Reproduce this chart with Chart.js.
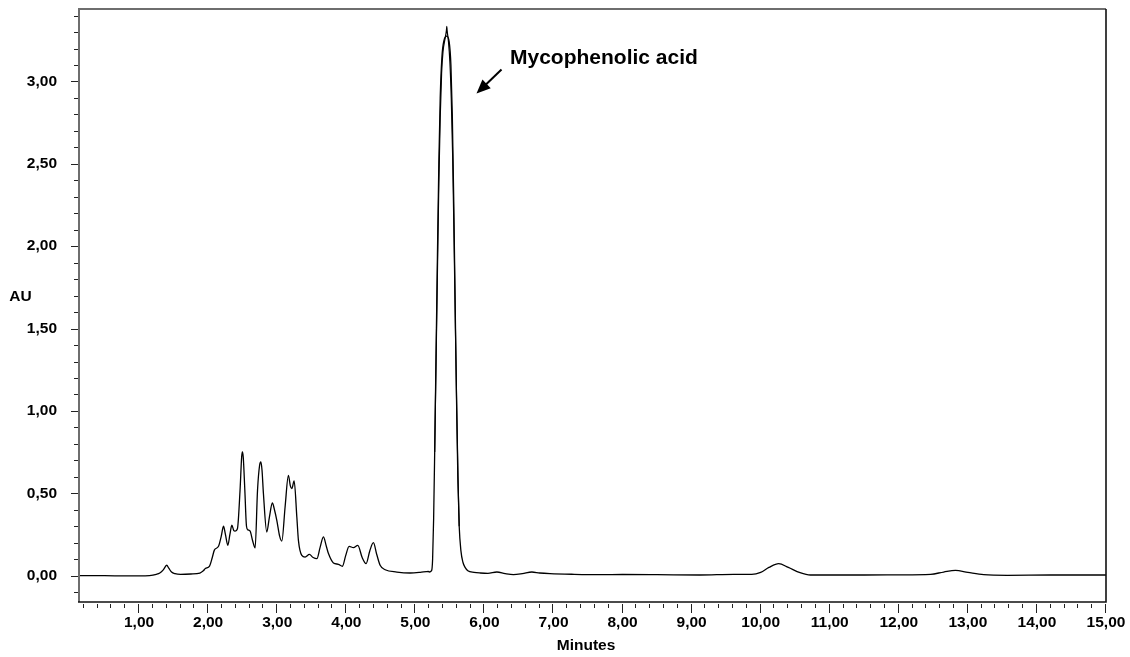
<!DOCTYPE html>
<html>
<head>
<meta charset="utf-8">
<script src="https://cdn.jsdelivr.net/npm/chart.js@4.4.1/dist/chart.umd.min.js"></script>
<style>
  html, body { margin: 0; padding: 0; background: #fff; }
  #wrap { width: 1130px; height: 657px; position: relative; }
</style>
</head>
<body>
<div id="wrap"><canvas id="c" width="1130" height="657"></canvas></div>
<script>
// ---- Data ----
const timeMin = [
  0.13, 0.50, 0.80, 1.00, 1.15, 1.25, 1.30, 1.35, 1.40, 1.43, 1.47, 1.52, 1.60, 1.75, 1.88, 1.93, 1.96,
  2.02, 2.06, 2.09, 2.15, 2.19, 2.222, 2.25, 2.285, 2.315, 2.343, 2.37, 2.39, 2.424, 2.462, 2.485, 2.496,
  2.508, 2.531, 2.555, 2.575, 2.608, 2.645, 2.68, 2.715, 2.745, 2.763, 2.78, 2.80, 2.849, 2.887, 2.93,
  2.96, 2.994, 3.035, 3.067, 3.114, 3.162, 3.19, 3.211, 3.245, 3.284, 3.307, 3.356, 3.404, 3.466, 3.52,
  3.574, 3.62, 3.669, 3.71, 3.742, 3.814, 3.886, 3.944, 3.99, 4.041, 4.104, 4.167, 4.23, 4.287, 4.34,
  4.393, 4.44, 4.49, 4.563, 4.732, 4.925, 5.07, 5.19,
  5.20, 5.235, 5.25, 5.265, 5.28, 5.30, 5.32, 5.34, 5.36, 5.385, 5.415, 5.455, 5.49, 5.515, 5.535, 5.555,
  5.575, 5.595, 5.615, 5.635, 5.66, 5.69, 5.72, 5.76, 5.85,
  5.94, 6.05, 6.18, 6.30, 6.42, 6.55, 6.687, 6.80, 6.95, 7.30, 7.676, 8.00, 8.50, 9.12, 9.61, 9.87,
  10.00, 10.12, 10.26, 10.40, 10.57, 10.72, 11.50, 12.00, 12.46, 12.65, 12.82, 13.00, 13.23, 13.57,
  14.20, 15.00
];
const absorbanceAU = [
  0.000, 0.000, -0.002, -0.002, 0.000, 0.008, 0.016, 0.035, 0.063, 0.045, 0.022, 0.012, 0.008, 0.010, 0.016, 0.030, 0.043,
  0.058, 0.110, 0.155, 0.178, 0.240, 0.300, 0.250, 0.184, 0.250, 0.306, 0.275, 0.270, 0.285, 0.520, 0.720, 0.751,
  0.720, 0.520, 0.300, 0.278, 0.270, 0.210, 0.168, 0.520, 0.670, 0.690, 0.640, 0.500, 0.265, 0.356, 0.441,
  0.400, 0.336, 0.240, 0.210, 0.417, 0.609, 0.545, 0.528, 0.575, 0.356, 0.214, 0.123, 0.113, 0.129, 0.110,
  0.103, 0.170, 0.235, 0.180, 0.134, 0.077, 0.069, 0.057, 0.120, 0.178, 0.170, 0.184, 0.110, 0.073, 0.150,
  0.200, 0.130, 0.063, 0.036, 0.022, 0.016, 0.020, 0.026,
  0.022, 0.030, 0.100, 0.350, 0.750, 1.350, 1.950, 2.500, 2.900, 3.150, 3.250, 3.275, 3.240, 3.100, 2.800, 2.300,
  1.700, 1.100, 0.600, 0.300, 0.150, 0.080, 0.050, 0.030, 0.020,
  0.016, 0.014, 0.022, 0.012, 0.006, 0.012, 0.022, 0.016, 0.012, 0.008, 0.006, 0.007, 0.006, 0.004, 0.008, 0.008,
  0.020, 0.050, 0.073, 0.050, 0.018, 0.004, 0.004, 0.005, 0.008, 0.022, 0.032, 0.020, 0.006, 0.002,
  0.004, 0.004
];
// second overlaid injection trace around the main peak (slightly narrower, sharper apex)
const overlayTime = [5.28, 5.30, 5.32, 5.34, 5.36, 5.38, 5.40, 5.43, 5.45, 5.455, 5.46, 5.48, 5.50, 5.52, 5.54, 5.56, 5.58, 5.60, 5.62, 5.635];
const overlayAU   = [0.75, 1.30, 1.85, 2.38, 2.78, 3.05, 3.18, 3.26, 3.31, 3.335, 3.31, 3.24, 3.12, 2.90, 2.55, 2.05, 1.50, 1.00, 0.55, 0.30];

const xMajorTicks = [1, 2, 3, 4, 5, 6, 7, 8, 9, 10, 11, 12, 13, 14, 15];
const yMajorTicks = [0, 0.5, 1.0, 1.5, 2.0, 2.5, 3.0];
const xRange = [0.13, 15.0];
const yRange = [-0.16, 3.44];
const xTitle = 'Minutes';
const yTitle = 'AU';
const peakLabel = 'Mycophenolic acid';

const FONT = "'Liberation Sans', Arial, Helvetica, sans-serif";
const fmt = v => Number(v).toFixed(2).replace('.', ',');
const noPad = s => { s.paddingLeft = 0; s.paddingRight = 0; s.paddingTop = 0; s.paddingBottom = 0; };

const framePlugin = {
  id: 'frame',
  afterDraw(chart) {
    const { ctx, chartArea: a, scales } = chart;
    const xs = scales.x, ys = scales.y;
    ctx.save();
    // minor / major ticks - y axis
    ctx.strokeStyle = '#222';
    ctx.lineWidth = 1;
    for (let i = -1; i <= 34; i++) {
      const v = i / 10;
      const py = Math.round(ys.getPixelForValue(v)) + 0.5;
      const major = (i % 5 === 0) && i >= 0 && i <= 30;
      ctx.beginPath();
      ctx.moveTo(a.left - (major ? 8 : 5), py);
      ctx.lineTo(a.left, py);
      ctx.stroke();
    }
    // x axis ticks
    for (let i = 1; i <= 75; i++) {
      const v = i / 5;
      const px = Math.round(xs.getPixelForValue(v)) - 0.5;
      const major = i % 5 === 0;
      ctx.beginPath();
      ctx.moveTo(px, a.bottom + 2);
      ctx.lineTo(px, a.bottom + (major ? 11 : 6));
      ctx.stroke();
    }
    // frame
    ctx.lineWidth = 2;
    ctx.strokeStyle = '#6e6e6e';
    ctx.beginPath();
    ctx.moveTo(a.left, a.bottom);
    ctx.lineTo(a.left, a.top);
    ctx.lineTo(a.right, a.top);
    ctx.stroke();
    ctx.lineWidth = 1.6;
    ctx.strokeStyle = '#111';
    ctx.beginPath();
    ctx.moveTo(a.right, a.top);
    ctx.lineTo(a.right, a.bottom);
    ctx.lineTo(a.left - 1, a.bottom);
    ctx.stroke();

    // axis titles
    ctx.fillStyle = '#000';
    ctx.font = 'bold 15.5px ' + FONT;
    ctx.textAlign = 'center';
    ctx.textBaseline = 'middle';
    ctx.fillText(xTitle, 586, 646);
    ctx.fillText(yTitle, 20.5, 297);

    // annotation
    ctx.font = 'bold 21px ' + FONT;
    ctx.textAlign = 'left';
    ctx.textBaseline = 'alphabetic';
    ctx.fillText(peakLabel, 510, 64);
    // arrow
    const sx = 501.5, sy = 69.5, tx = 476.5, ty = 93.5;
    const dx = tx - sx, dy = ty - sy, len = Math.hypot(dx, dy);
    const ux = dx / len, uy = dy / len;
    const hl = 14, hw = 6;
    const bx = tx - ux * hl, by = ty - uy * hl;
    ctx.strokeStyle = '#000';
    ctx.lineWidth = 2;
    ctx.beginPath();
    ctx.moveTo(sx, sy);
    ctx.lineTo(bx + ux * 2, by + uy * 2);
    ctx.stroke();
    ctx.beginPath();
    ctx.moveTo(tx, ty);
    ctx.lineTo(bx - uy * hw, by + ux * hw);
    ctx.lineTo(bx + uy * hw, by - ux * hw);
    ctx.closePath();
    ctx.fill();
    ctx.restore();
  }
};

new Chart(document.getElementById('c'), {
  type: 'line',
  data: {
    datasets: [
      {
        data: timeMin.map((t, i) => ({ x: t, y: absorbanceAU[i] })),
        borderColor: '#000',
        borderWidth: 1.3,
        pointRadius: 0,
        cubicInterpolationMode: 'monotone',
        fill: false
      },
      {
        data: overlayTime.map((t, i) => ({ x: t, y: overlayAU[i] })),
        borderColor: '#000',
        borderWidth: 1.2,
        pointRadius: 0,
        cubicInterpolationMode: 'monotone',
        fill: false
      }
    ]
  },
  options: {
    responsive: false,
    animation: false,
    events: [],
    layout: { padding: { left: 0, top: 9, right: 24, bottom: 0 } },
    plugins: { legend: { display: false }, tooltip: { enabled: false }, title: { display: false } },
    scales: {
      x: {
        type: 'linear',
        min: xRange[0], max: xRange[1],
        afterBuildTicks: s => { s.ticks = xMajorTicks.map(v => ({ value: v })); },
        afterFit: s => { s.height = 55; noPad(s); },
        grid: { display: false, drawTicks: false },
        border: { display: false },
        ticks: {
          autoSkip: false, maxRotation: 0, minRotation: 0, padding: 11,
          color: '#000',
          font: { family: FONT, size: 15.5, weight: 'bold' },
          callback: v => fmt(v)
        }
      },
      y: {
        type: 'linear',
        min: yRange[0], max: yRange[1],
        afterBuildTicks: s => { s.ticks = yMajorTicks.map(v => ({ value: v })); },
        afterFit: s => { s.width = 79; noPad(s); },
        grid: { display: false, drawTicks: false },
        border: { display: false },
        ticks: {
          padding: 22,
          color: '#000',
          font: { family: FONT, size: 15.5, weight: 'bold' },
          callback: v => fmt(v)
        }
      }
    }
  },
  plugins: [framePlugin]
});
</script>
</body>
</html>
